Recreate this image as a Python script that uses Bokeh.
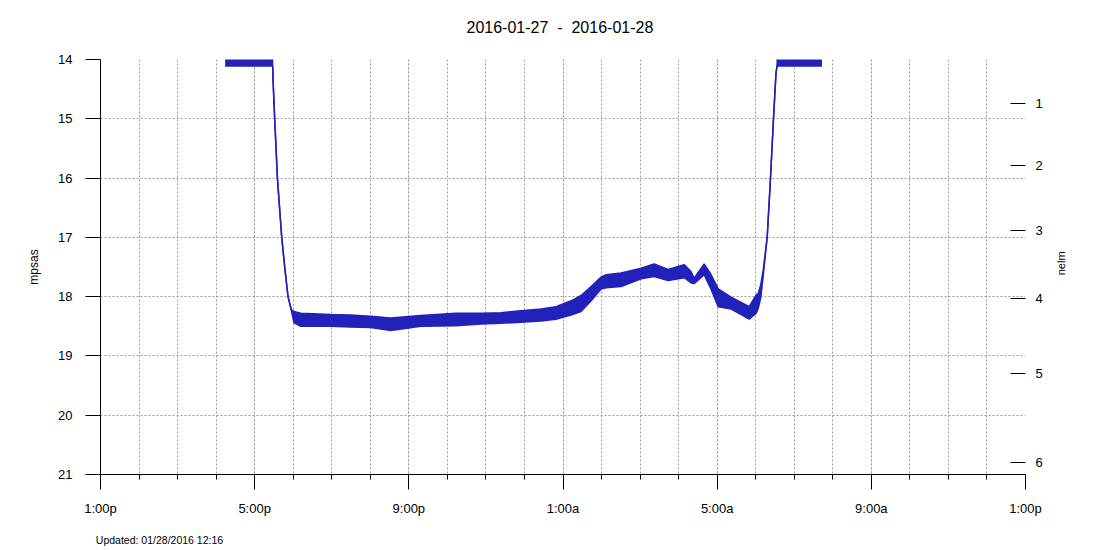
import math
from bokeh.plotting import figure
from bokeh.models import Range1d, LinearAxis, FixedTicker, ColumnDataSource
from bokeh.embed import file_html
from bokeh.resources import INLINE

title_text = "2016-01-27 \u00a0-\u00a0 2016-01-28"
footer_text = "Updated: 01/28/2016 12:16"
left_label = "mpsas"
right_label = "nelm"

# time in hours after 1:00p on 2016-01-27
hours = [3.234, 4.455, 4.468, 4.475, 4.519, 4.590, 4.701, 4.779, 4.865, 4.953,
         5.021, 5.195, 5.974, 6.480, 7.013, 7.532, 8.312, 9.221, 9.870, 10.390,
         10.909, 11.430, 11.818, 12.210, 12.468, 12.730, 12.987, 13.117, 13.506, 14.026,
         14.364, 14.727, 15.143, 15.325, 15.403, 15.662, 15.844, 16.026, 16.364, 16.831,
         17.013, 17.065, 17.130, 17.195, 17.299, 17.384, 17.462, 17.525, 17.553, 17.564,
         18.720]
# brighter edge of the noisy reading band (mpsas)
mpsas_low = [13.90, 13.90, 14.11, 14.32, 14.99, 16.00, 16.99, 17.50, 18.00, 18.22,
             18.25, 18.28, 18.30, 18.31, 18.33, 18.36, 18.32, 18.28, 18.28, 18.27,
             18.24, 18.21, 18.17, 18.07, 17.98, 17.83, 17.67, 17.63, 17.60, 17.52,
             17.45, 17.54, 17.46, 17.58, 17.69, 17.45, 17.63, 17.87, 18.01, 18.17,
             17.97, 17.95, 17.80, 17.55, 16.99, 16.00, 14.99, 14.24, 14.11, 13.90,
             13.90]
# darker edge of the band (mpsas)
mpsas_high = [14.11, 14.11, 14.12, 14.32, 14.99, 16.00, 16.99, 17.50, 18.00, 18.24,
              18.44, 18.50, 18.50, 18.51, 18.52, 18.57, 18.50, 18.49, 18.46, 18.45,
              18.43, 18.41, 18.38, 18.31, 18.25, 18.07, 17.87, 17.85, 17.83, 17.70,
              17.66, 17.73, 17.68, 17.77, 17.78, 17.63, 17.88, 18.17, 18.21, 18.38,
              18.28, 18.20, 18.02, 17.65, 16.99, 16.00, 14.99, 14.24, 14.11, 14.11,
              14.11]

x_tick_hours = [0, 4, 8, 12, 16, 20, 24]
x_tick_labels = ["1:00p", "5:00p", "9:00p", "1:00a", "5:00a", "9:00a", "1:00p"]
mpsas_ticks = [14, 15, 16, 17, 18, 19, 20, 21]
nelm_ticks = [1, 2, 3, 4, 5, 6]


def mpsas_at_nelm(n):
    return round(5 * (4.316 - math.log10(10 ** ((7.93 - n) / 5) - 1)), 3)


nelm_pos = [mpsas_at_nelm(n) for n in nelm_ticks]

# placement anchors for the title, the right-side title and the footer note
TITLE_CENTER = 11.92        # centre of the title (hours scale)
RIGHT_LABEL_START = 17.64   # lower end of the rotated "nelm" text (mpsas scale)
FOOTER_CENTER = 1.53        # centre of the footer text (hours scale)

FONT = "Liberation Sans"
BLUE = "#2222bb"
GRID = "#9a9a9a"


def text_axis(ticker_pos, text, size, standoff, **kw):
    ax = LinearAxis(ticker=FixedTicker(ticks=[ticker_pos], minor_ticks=[]),
                    major_label_overrides={ticker_pos: text}, **kw)
    ax.axis_line_color = None
    ax.major_tick_line_color = None
    ax.minor_tick_line_color = None
    ax.major_tick_out = 0
    ax.major_tick_in = 0
    ax.major_label_standoff = standoff
    ax.major_label_text_font = FONT
    ax.major_label_text_font_size = size
    ax.major_label_text_color = "#000000"
    return ax


p = figure(frame_width=925, frame_height=415,
           min_border_left=100, min_border_right=67, min_border_top=59, min_border_bottom=76,
           x_range=Range1d(0, 24), y_range=Range1d(21, 14),
           output_backend="svg", toolbar_location=None,
           background_fill_color="white", border_fill_color="white")
p.outline_line_color = None

# main time axis (grab it before any other axis is added)
xa = p.below[0]
xa.ticker = FixedTicker(ticks=x_tick_hours, minor_ticks=list(range(25)))
xa.major_label_overrides = {h: lab for h, lab in zip(x_tick_hours, x_tick_labels)}
xa.axis_line_color = "black"
xa.major_tick_line_color = "black"
xa.minor_tick_line_color = "black"
xa.major_tick_out = 15
xa.major_tick_in = 0
xa.minor_tick_out = 5
xa.minor_tick_in = 0
xa.major_label_standoff = 11
xa.major_label_text_font = FONT
xa.major_label_text_font_size = "13px"
xa.major_label_text_color = "#000000"

# left axis
ya = p.left[0]
ya.ticker = FixedTicker(ticks=mpsas_ticks, minor_ticks=[])
ya.axis_line_color = "black"
ya.major_tick_line_color = "black"
ya.minor_tick_line_color = None
ya.major_tick_out = 15
ya.major_tick_in = 0
ya.major_label_standoff = 13
ya.major_label_text_font = FONT
ya.major_label_text_font_size = "13px"
ya.major_label_text_color = "#000000"
ya.axis_label = left_label
ya.axis_label_text_font = FONT
ya.axis_label_text_font_size = "12px"
ya.axis_label_text_font_style = "normal"
ya.axis_label_text_color = "#000000"
ya.axis_label_standoff = 14

# grids
for g in (p.xgrid[0], p.ygrid[0]):
    g.grid_line_color = GRID
    g.grid_line_dash = "2 2"
    g.grid_line_width = 1
p.xgrid[0].minor_grid_line_color = GRID
p.xgrid[0].minor_grid_line_dash = "2 2"
p.xgrid[0].minor_grid_line_width = 1

# right axis (nelm)
p.extra_y_ranges = {"nelm": Range1d(21, 14)}
ra = LinearAxis(y_range_name="nelm",
                ticker=FixedTicker(ticks=nelm_pos, minor_ticks=[]),
                major_label_overrides={pos: str(n) for pos, n in zip(nelm_pos, nelm_ticks)})
ra.axis_line_color = None
ra.major_tick_line_color = "black"
ra.minor_tick_line_color = None
ra.major_tick_in = 15
ra.major_tick_out = 0
ra.major_label_standoff = 10
ra.major_label_text_font = FONT
ra.major_label_text_font_size = "13px"
ra.major_label_text_color = "#000000"
p.add_layout(ra, "right")

# right-side title "nelm", read bottom-to-top
p.add_layout(text_axis(RIGHT_LABEL_START, right_label, "11px", 16,
                       y_range_name="nelm", major_label_orientation=math.pi / 2), "right")

# title above the plot and footer note below the time axis
p.add_layout(text_axis(TITLE_CENTER, title_text, "16px", 24), "above")
p.add_layout(text_axis(FOOTER_CENTER, footer_text, "10.5px", 15), "below")

src = ColumnDataSource(dict(h=hours, lo=mpsas_low, hi=mpsas_high))
p.varea(x="h", y1="lo", y2="hi", source=src, fill_color=BLUE)
p.line(x="h", y="lo", source=src, line_color=BLUE, line_width=1.5)
p.line(x="h", y="hi", source=src, line_color=BLUE, line_width=1.5)

open("out.html", "w").write(file_html(p, INLINE))
